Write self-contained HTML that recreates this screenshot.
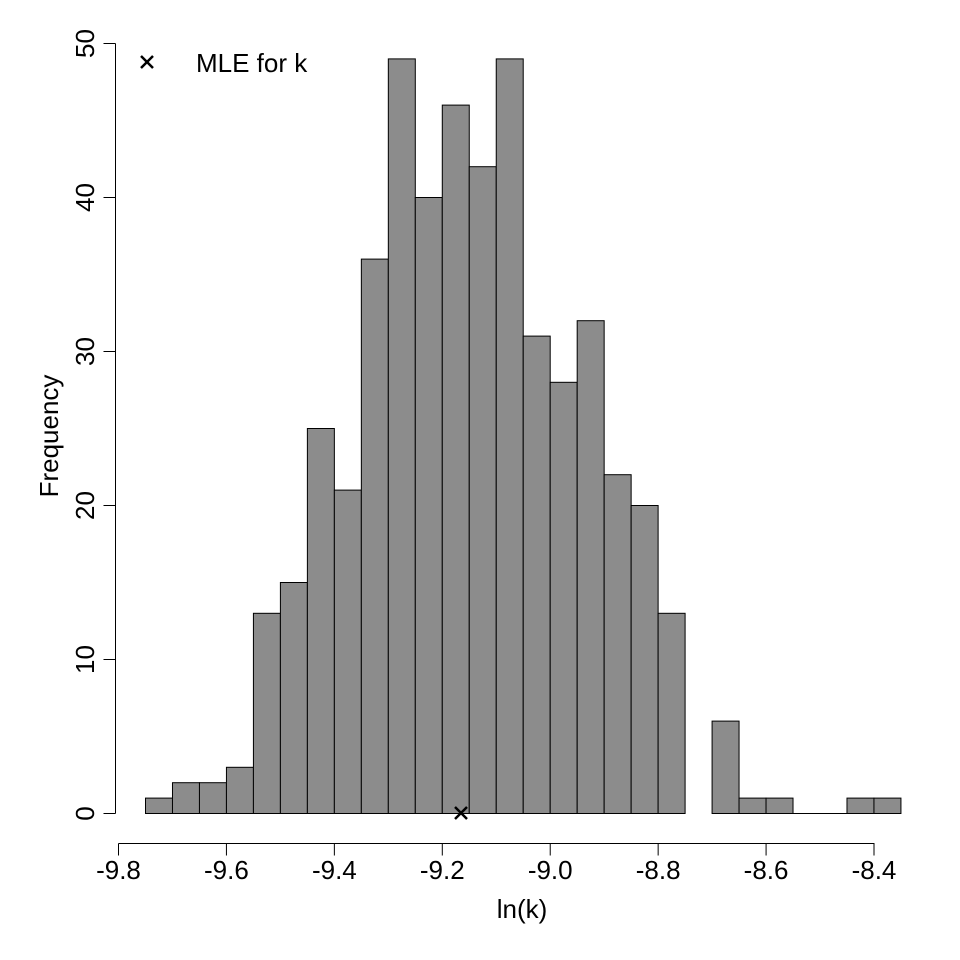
<!DOCTYPE html>
<html><head><style>body{margin:0;background:#fff}svg{display:block}</style></head><body>
<svg width="960" height="960" xmlns="http://www.w3.org/2000/svg" font-family="Liberation Sans, sans-serif">
<g id="bars" fill="#8c8c8c" stroke="#000" stroke-width="1"></g>
<line x1="793" y1="813.5" x2="847" y2="813.5" stroke="#000"/>
<line x1="118.5" y1="843.5" x2="874.5" y2="843.5" stroke="#000"/>
<g id="xt" stroke="#000"></g>
<g font-size="26" text-anchor="middle" id="xl"></g>
<line x1="115.5" y1="43.5" x2="115.5" y2="813.5" stroke="#000"/>
<g id="yt" stroke="#000"></g>
<text x="522" y="918" font-size="26" text-anchor="middle">ln(k)</text>
<text transform="translate(58,436) rotate(-90)" font-size="26" text-anchor="middle">Frequency</text>
<g stroke="#000" stroke-width="2.5"><line x1="455" y1="807" x2="467" y2="819"/><line x1="467" y1="807" x2="455" y2="819"/>
<line x1="141" y1="56" x2="153" y2="68"/><line x1="153" y1="56" x2="141" y2="68"/></g>
<text x="196" y="72" font-size="26">MLE for k</text>
<script>
const ns="http://www.w3.org/2000/svg";
const c=[1,2,2,3,13,15,25,21,36,49,40,46,42,49,31,28,32,22,20,13,0,6,1,1,0,0,1,1];
const b=document.getElementById('bars');const w=26.98,x0=145.5,y0=813.5,u=15.4;
c.forEach((v,i)=>{if(v==0)return;const r=document.createElementNS(ns,'rect');r.setAttribute('x',x0+i*w);r.setAttribute('y',y0-v*u);r.setAttribute('width',w);r.setAttribute('height',v*u);b.appendChild(r);});
const xt=document.getElementById('xt'),xl=document.getElementById('xl');
["-9.8","-9.6","-9.4","-9.2","-9.0","-8.8","-8.6","-8.4"].forEach((s,i)=>{const x=118.5+i*107.93;const l=document.createElementNS(ns,'line');l.setAttribute('x1',x);l.setAttribute('x2',x);l.setAttribute('y1',843.5);l.setAttribute('y2',855.5);xt.appendChild(l);const t=document.createElementNS(ns,'text');t.setAttribute('x',x);t.setAttribute('y',879);t.textContent=s;xl.appendChild(t);});
const yt=document.getElementById('yt');
for(let i=0;i<=5;i++){const y=813.5-i*154;const l=document.createElementNS(ns,'line');l.setAttribute('x1',103.5);l.setAttribute('x2',115.5);l.setAttribute('y1',y);l.setAttribute('y2',y);yt.appendChild(l);const t=document.createElementNS(ns,'text');t.setAttribute('transform',`translate(94,${y}) rotate(-90)`);t.setAttribute('font-size',26);t.setAttribute('text-anchor','middle');t.textContent=i*10;document.querySelector('svg').appendChild(t);}
</script>
</svg>
</body></html>
